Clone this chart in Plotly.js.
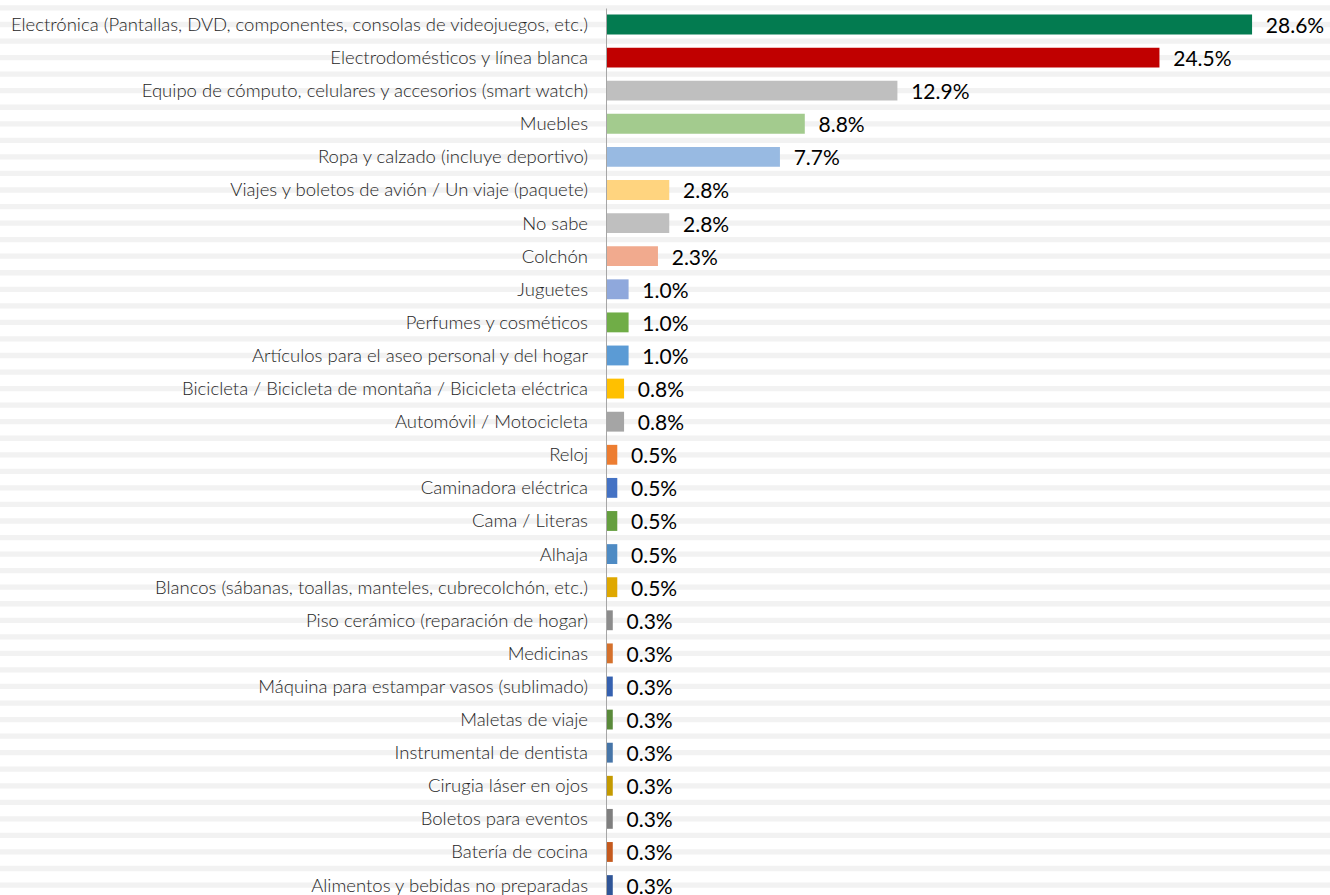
<!DOCTYPE html>
<html>
<head>
<meta charset="utf-8">
<script src="https://cdn.plot.ly/plotly-3.0.1.min.js"></script>
<style>html,body{margin:0;padding:0;background:#fff;}#chart{width:1330px;height:895px;}</style>
</head>
<body>
<div id="chart"></div>
<script>
const categories = [
  "Electrónica (Pantallas, DVD, componentes, consolas de videojuegos, etc.)",
  "Electrodomésticos y línea blanca",
  "Equipo de cómputo, celulares y accesorios (smart watch)",
  "Muebles",
  "Ropa y calzado (incluye deportivo)",
  "Viajes y boletos de avión / Un viaje (paquete)",
  "No sabe",
  "Colchón",
  "Juguetes",
  "Perfumes y cosméticos",
  "Artículos para el aseo personal y del hogar",
  "Bicicleta / Bicicleta de montaña / Bicicleta eléctrica",
  "Automóvil / Motocicleta",
  "Reloj",
  "Caminadora eléctrica",
  "Cama / Literas",
  "Alhaja",
  "Blancos (sábanas, toallas, manteles, cubrecolchón, etc.)",
  "Piso cerámico (reparación de hogar)",
  "Medicinas",
  "Máquina para estampar vasos (sublimado)",
  "Maletas de viaje",
  "Instrumental de dentista",
  "Cirugia láser en ojos",
  "Boletos para eventos",
  "Batería de cocina",
  "Alimentos y bebidas no preparadas"
];
const values = [28.6, 24.5, 12.9, 8.8, 7.7, 2.8, 2.8, 2.3, 1.0, 1.0, 1.0, 0.8, 0.8,
  0.5, 0.5, 0.5, 0.5, 0.5, 0.3, 0.3, 0.3, 0.3, 0.3, 0.3, 0.3, 0.3, 0.3];
const colors = ["#037b50", "#c00000", "#bfbfbf", "#a3cb8e", "#98bae2", "#ffd47f", "#bfbfbf",
  "#f1aa8e", "#8fa8dc", "#70ad47", "#5b9bd5", "#ffc000", "#a5a5a5", "#ed7d31", "#4472c4",
  "#659f3f", "#4e8bc4", "#dfa800", "#8c8c8c", "#d5712c", "#3561b0", "#5a8a3a", "#4675a8",
  "#c49a00", "#7f7f7f", "#c55a1e", "#2f5597"];

const yIdx = categories.map((c, i) => i);
const labels = values.map(v => "\u00a0\u00a0" + v.toFixed(1) + "%");

const shapes = [];
for (let k = -2; k <= 54; k++) {
  const c = k * 0.5;
  shapes.push({type: "rect", xref: "paper", yref: "y", x0: -1, x1: 1.2,
    y0: c - 0.08, y1: c + 0.08, fillcolor: "#f2f2f2", line: {width: 0}, layer: "below"});
}
shapes.push({type: "line", xref: "x", yref: "y", x0: 0, x1: 0, y0: -0.48, y1: 27,
  line: {color: "#a6a6a6", width: 2}, layer: "above"});

const trace = {
  type: "bar", orientation: "h",
  x: values, y: yIdx,
  marker: {color: colors, line: {width: 0}},
  text: labels, textposition: "outside", cliponaxis: false, constraintext: "none",
  textfont: {family: "Lato, 'Liberation Sans', sans-serif", size: 21, color: "#000000"},
  hoverinfo: "none"
};

const layout = {
  width: 1330, height: 895,
  margin: {l: 606, r: 0, t: 0, b: 0, pad: 0},
  paper_bgcolor: "#ffffff", plot_bgcolor: "rgba(0,0,0,0)",
  bargap: 0.4,
  showlegend: false,
  xaxis: {range: [0, 32.05], visible: false, fixedrange: true},
  yaxis: {range: [26.3, -0.74], tickmode: "array", tickvals: yIdx, ticktext: categories,
    showgrid: false, zeroline: false, showline: false, ticks: "", ticklabelstandoff: 17,
    ticklabeloverflow: "allow",
    tickfont: {family: "Lato, 'Liberation Sans', sans-serif", size: 18.5, weight: 300, color: "#262626"},
    fixedrange: true},
  shapes: shapes
};

Plotly.newPlot("chart", [trace], layout, {displayModeBar: false, staticPlot: true});
</script>
</body>
</html>
